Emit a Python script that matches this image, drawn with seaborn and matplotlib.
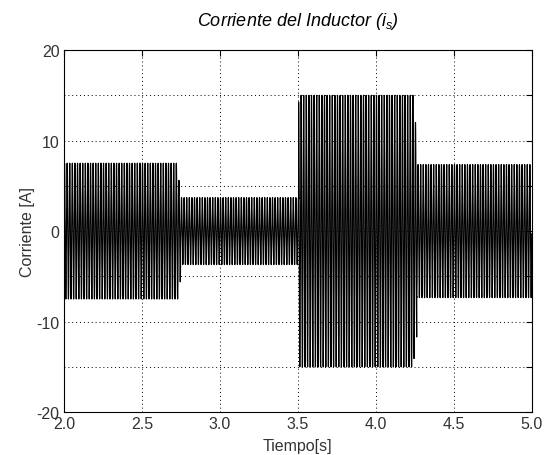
import numpy as np
import pandas as pd
import seaborn as sns
import matplotlib
matplotlib.use("Agg")
import matplotlib.pyplot as plt

# Segment data (time in s, peak current in A)
seg_start = [2.000, 2.735, 2.748, 3.505, 4.245, 4.262]
seg_end   = [2.735, 2.748, 3.505, 4.245, 4.262, 5.000]
seg_amp   = [7.5, 5.6, 3.7, 15.0, 12.0, 7.35]
freq_hz = 60.0
x_ticks = [2.0, 2.5, 3.0, 3.5, 4.0, 4.5, 5.0]
x_tick_labels = ["2.0", "2.5", "3.0", "3.5", "4.0", "4.5", "5.0"]
y_ticks = [-20, -15, -10, -5, 0, 5, 10, 15, 20]
y_tick_labels = ["-20", "", "-10", "", "0", "", "10", "", "20"]

sns.set_theme(style="white")
plt.rcParams["font.family"] = ["Liberation Sans", "DejaVu Sans"]
plt.rcParams["mathtext.fontset"] = "custom"
plt.rcParams["mathtext.rm"] = "Liberation Sans"
plt.rcParams["mathtext.it"] = "Liberation Sans:italic"

t = np.arange(2.0, 5.0, 1.0 / 10000.0)
amp = np.zeros_like(t)
for s, e, a in zip(seg_start, seg_end, seg_amp):
    amp[(t >= s) & (t < e)] = a
current = amp * np.sin(2 * np.pi * freq_hz * t)
df = pd.DataFrame({"Tiempo": t, "Corriente": current})

fig = plt.figure(figsize=(5.46, 4.56), dpi=100)
ax = fig.add_axes([0.117, 0.094, 0.857, 0.794])
sns.lineplot(data=df, x="Tiempo", y="Corriente", ax=ax, color="black",
             linewidth=0.85, estimator=None, sort=False)

ax.set_xlim(2.0, 5.0)
ax.set_ylim(-20, 20)
ax.set_xticks(x_ticks)
ax.set_xticklabels(x_tick_labels)
ax.set_yticks(y_ticks)
ax.set_yticklabels(y_tick_labels)
ax.tick_params(direction="in", length=4, width=0.8, colors="black",
               labelsize=11.5, top=True, right=True)
ax.tick_params(axis="x", pad=3)
ax.tick_params(axis="y", pad=3)
for lab in ax.get_xticklabels() + ax.get_yticklabels():
    lab.set_color("#333333")
ax.grid(True, linestyle=(0, (1, 3)), color="black", linewidth=0.7)
for sp in ax.spines.values():
    sp.set_color("black")
    sp.set_linewidth(0.8)
    sp.set_visible(True)

ax.set_xlabel("Tiempo[s]", fontsize=11.5, color="#333333")
ax.set_ylabel("Corriente [A]", fontsize=11.5, color="#333333")
ax.xaxis.set_label_coords(0.5, -0.072)
ax.yaxis.set_label_coords(-0.062, 0.5)
ax.set_title(r"Corriente del Inductor ($\mathit{i_s}$)", fontsize=13,
             style="italic", pad=18, color="black")

fig.savefig("out.png", dpi=100, facecolor="white")
